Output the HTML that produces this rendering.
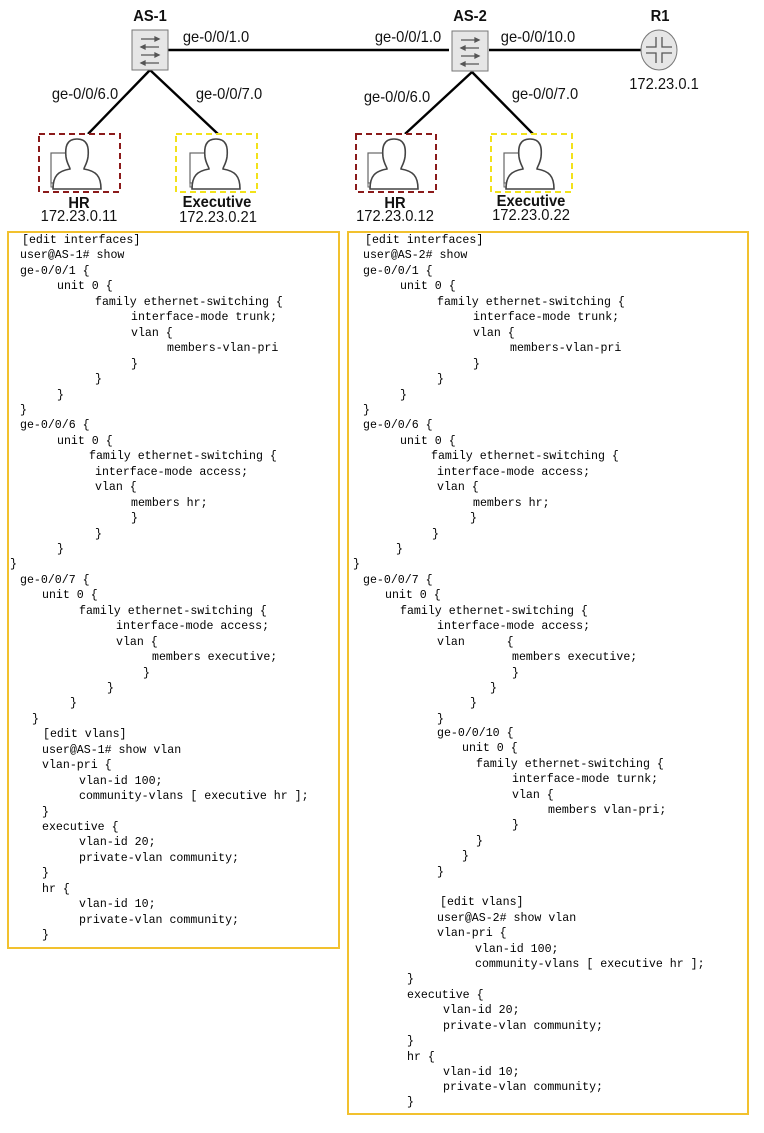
<!DOCTYPE html>
<html><head><meta charset="utf-8"><style>
body{margin:0;background:#fff;}
#c{position:relative;width:764px;height:1133px;overflow:hidden;background:#fff;}
.l{position:absolute;font-family:"Liberation Mono",monospace;font-size:11.6px;line-height:16px;white-space:pre;color:#000;}
.t{position:absolute;font-family:"Liberation Sans",sans-serif;font-size:16px;color:#111;white-space:nowrap;transform:translateX(-50%) scaleX(0.92);}
.b{font-weight:bold;}
.box{position:absolute;border:2px solid #f2c12e;box-sizing:border-box;}
</style></head><body><div id="c">
<svg width="764" height="240" style="position:absolute;left:0;top:0">
<defs>
<g id="sw"><rect x="0" y="0" width="36" height="40" fill="#e6e6e6" stroke="#777" stroke-width="1"/>
<g stroke="#555" stroke-width="1.3" fill="#555">
<line x1="9" y1="9" x2="27" y2="9"/><path d="M27 9 l-4 -2 v4z"/>
<line x1="9" y1="17" x2="27" y2="17"/><path d="M9 17 l4 -2 v4z"/>
<line x1="9" y1="25" x2="27" y2="25"/><path d="M27 25 l-4 -2 v4z"/>
<line x1="9" y1="33" x2="27" y2="33"/><path d="M9 33 l4 -2 v4z"/></g></g>
<g id="pp"><rect x="4" y="16" width="30" height="30" fill="#fff" stroke="#666" stroke-width="1.2"/>
<rect x="4" y="46" width="30" height="4" fill="#fff" stroke="#666" stroke-width="1"/>
<path d="M30 2 c-11 0 -12 9 -11 18 c1 7 4 10 4 12 c-12 2 -17 7 -17 20 h48 c0 -13 -5 -18 -17 -20 c0 -2 3 -5 4 -12 c1 -9 0 -18 -11 -18z" fill="#fff" stroke="#444" stroke-width="1.6"/></g>
</defs>
<g stroke="#000" stroke-width="2.4">
<line x1="166" y1="50" x2="449" y2="50"/>
<line x1="489" y1="50" x2="642" y2="50"/>
<line x1="150" y1="70" x2="88" y2="134"/>
<line x1="150" y1="70" x2="218" y2="134"/>
<line x1="472" y1="72" x2="405" y2="134"/>
<line x1="472" y1="72" x2="533" y2="134"/>
</g>
<use href="#sw" x="132" y="30"/>
<use href="#sw" x="452" y="31"/>
<ellipse cx="659" cy="50" rx="18" ry="20" fill="#e6e6e6" stroke="#777"/>
<g stroke="#555" stroke-width="1.3" fill="none"><path d="M656 37 v10 h-10 M662 37 v10 h10 M656 63 v-10 h-10 M662 63 v-10 h10"/></g>
<rect x="39" y="134" width="81" height="58" fill="#fff" stroke="#8b1a1a" stroke-width="2" stroke-dasharray="6,4"/>
<rect x="176" y="134" width="81" height="58" fill="#fff" stroke="#f2e21a" stroke-width="2" stroke-dasharray="6,4"/>
<rect x="356" y="134" width="80" height="58" fill="#fff" stroke="#8b1a1a" stroke-width="2" stroke-dasharray="6,4"/>
<rect x="491" y="134" width="81" height="58" fill="#fff" stroke="#f2e21a" stroke-width="2" stroke-dasharray="6,4"/>
<use href="#pp" x="47" y="137"/>
<use href="#pp" x="186" y="137"/>
<use href="#pp" x="364" y="137"/>
<use href="#pp" x="500" y="137"/>
</svg>
<div class="t b" style="left:150px;top:8px">AS-1</div>
<div class="t b" style="left:470px;top:8px">AS-2</div>
<div class="t b" style="left:660px;top:8px">R1</div>
<div class="t" style="left:216px;top:29px">ge-0/0/1.0</div>
<div class="t" style="left:408px;top:29px">ge-0/0/1.0</div>
<div class="t" style="left:538px;top:29px">ge-0/0/10.0</div>
<div class="t" style="left:664px;top:76px">172.23.0.1</div>
<div class="t" style="left:85px;top:86px">ge-0/0/6.0</div>
<div class="t" style="left:229px;top:86px">ge-0/0/7.0</div>
<div class="t" style="left:397px;top:89px">ge-0/0/6.0</div>
<div class="t" style="left:545px;top:86px">ge-0/0/7.0</div>
<div class="t b" style="left:79px;top:195px">HR</div>
<div class="t" style="left:79px;top:208px">172.23.0.11</div>
<div class="t b" style="left:217px;top:194px">Executive</div>
<div class="t" style="left:218px;top:209px">172.23.0.21</div>
<div class="t b" style="left:395px;top:195px">HR</div>
<div class="t" style="left:395px;top:208px">172.23.0.12</div>
<div class="t b" style="left:531px;top:193px">Executive</div>
<div class="t" style="left:531px;top:207px">172.23.0.22</div>

<div class="box" style="left:7px;top:231px;width:333px;height:718px"></div>
<div class="box" style="left:347px;top:231px;width:402px;height:884px"></div>

<div class="l" style="left:22px;top:233px">[edit interfaces]</div>
<div class="l" style="left:20px;top:248px">user@AS-1# show</div>
<div class="l" style="left:20px;top:264px">ge-0/0/1 {</div>
<div class="l" style="left:57px;top:279px">unit 0 {</div>
<div class="l" style="left:95px;top:295px">family ethernet-switching {</div>
<div class="l" style="left:131px;top:310px">interface-mode trunk;</div>
<div class="l" style="left:131px;top:326px">vlan {</div>
<div class="l" style="left:167px;top:341px">members-vlan-pri</div>
<div class="l" style="left:131px;top:357px">}</div>
<div class="l" style="left:95px;top:372px">}</div>
<div class="l" style="left:57px;top:388px">}</div>
<div class="l" style="left:20px;top:403px">}</div>
<div class="l" style="left:20px;top:418px">ge-0/0/6 {</div>
<div class="l" style="left:57px;top:434px">unit 0 {</div>
<div class="l" style="left:89px;top:449px">family ethernet-switching {</div>
<div class="l" style="left:95px;top:465px">interface-mode access;</div>
<div class="l" style="left:95px;top:480px">vlan {</div>
<div class="l" style="left:131px;top:496px">members hr;</div>
<div class="l" style="left:131px;top:511px">}</div>
<div class="l" style="left:95px;top:527px">}</div>
<div class="l" style="left:57px;top:542px">}</div>
<div class="l" style="left:10px;top:557px">}</div>
<div class="l" style="left:20px;top:573px">ge-0/0/7 {</div>
<div class="l" style="left:42px;top:588px">unit 0 {</div>
<div class="l" style="left:79px;top:604px">family ethernet-switching {</div>
<div class="l" style="left:116px;top:619px">interface-mode access;</div>
<div class="l" style="left:116px;top:635px">vlan {</div>
<div class="l" style="left:152px;top:650px">members executive;</div>
<div class="l" style="left:143px;top:666px">}</div>
<div class="l" style="left:107px;top:681px">}</div>
<div class="l" style="left:70px;top:696px">}</div>
<div class="l" style="left:32px;top:712px">}</div>
<div class="l" style="left:43px;top:727px">[edit vlans]</div>
<div class="l" style="left:42px;top:743px">user@AS-1# show vlan</div>
<div class="l" style="left:42px;top:758px">vlan-pri {</div>
<div class="l" style="left:79px;top:774px">vlan-id 100;</div>
<div class="l" style="left:79px;top:789px">community-vlans [ executive hr ];</div>
<div class="l" style="left:42px;top:805px">}</div>
<div class="l" style="left:42px;top:820px">executive {</div>
<div class="l" style="left:79px;top:835px">vlan-id 20;</div>
<div class="l" style="left:79px;top:851px">private-vlan community;</div>
<div class="l" style="left:42px;top:866px">}</div>
<div class="l" style="left:42px;top:882px">hr {</div>
<div class="l" style="left:79px;top:897px">vlan-id 10;</div>
<div class="l" style="left:79px;top:913px">private-vlan community;</div>
<div class="l" style="left:42px;top:928px">}</div>

<div class="l" style="left:365px;top:233px">[edit interfaces]</div>
<div class="l" style="left:363px;top:248px">user@AS-2# show</div>
<div class="l" style="left:363px;top:264px">ge-0/0/1 {</div>
<div class="l" style="left:400px;top:279px">unit 0 {</div>
<div class="l" style="left:437px;top:295px">family ethernet-switching {</div>
<div class="l" style="left:473px;top:310px">interface-mode trunk;</div>
<div class="l" style="left:473px;top:326px">vlan {</div>
<div class="l" style="left:510px;top:341px">members-vlan-pri</div>
<div class="l" style="left:473px;top:357px">}</div>
<div class="l" style="left:437px;top:372px">}</div>
<div class="l" style="left:400px;top:388px">}</div>
<div class="l" style="left:363px;top:403px">}</div>
<div class="l" style="left:363px;top:418px">ge-0/0/6 {</div>
<div class="l" style="left:400px;top:434px">unit 0 {</div>
<div class="l" style="left:431px;top:449px">family ethernet-switching {</div>
<div class="l" style="left:437px;top:465px">interface-mode access;</div>
<div class="l" style="left:437px;top:480px">vlan {</div>
<div class="l" style="left:473px;top:496px">members hr;</div>
<div class="l" style="left:470px;top:511px">}</div>
<div class="l" style="left:432px;top:527px">}</div>
<div class="l" style="left:396px;top:542px">}</div>
<div class="l" style="left:353px;top:557px">}</div>
<div class="l" style="left:363px;top:573px">ge-0/0/7 {</div>
<div class="l" style="left:385px;top:588px">unit 0 {</div>
<div class="l" style="left:400px;top:604px">family ethernet-switching {</div>
<div class="l" style="left:437px;top:619px">interface-mode access;</div>
<div class="l" style="left:437px;top:635px">vlan      {</div>
<div class="l" style="left:512px;top:650px">members executive;</div>
<div class="l" style="left:512px;top:666px">}</div>
<div class="l" style="left:490px;top:681px">}</div>
<div class="l" style="left:470px;top:696px">}</div>
<div class="l" style="left:437px;top:712px">}</div>
<div class="l" style="left:437px;top:726px">ge-0/0/10 {</div>
<div class="l" style="left:462px;top:741px">unit 0 {</div>
<div class="l" style="left:476px;top:757px">family ethernet-switching {</div>
<div class="l" style="left:512px;top:772px">interface-mode turnk;</div>
<div class="l" style="left:512px;top:788px">vlan {</div>
<div class="l" style="left:548px;top:803px">members vlan-pri;</div>
<div class="l" style="left:512px;top:818px">}</div>
<div class="l" style="left:476px;top:834px">}</div>
<div class="l" style="left:462px;top:849px">}</div>
<div class="l" style="left:437px;top:865px">}</div>
<div class="l" style="left:440px;top:895px">[edit vlans]</div>
<div class="l" style="left:437px;top:911px">user@AS-2# show vlan</div>
<div class="l" style="left:437px;top:926px">vlan-pri {</div>
<div class="l" style="left:475px;top:942px">vlan-id 100;</div>
<div class="l" style="left:475px;top:957px">community-vlans [ executive hr ];</div>
<div class="l" style="left:407px;top:972px">}</div>
<div class="l" style="left:407px;top:988px">executive {</div>
<div class="l" style="left:443px;top:1003px">vlan-id 20;</div>
<div class="l" style="left:443px;top:1019px">private-vlan community;</div>
<div class="l" style="left:407px;top:1034px">}</div>
<div class="l" style="left:407px;top:1050px">hr {</div>
<div class="l" style="left:443px;top:1065px">vlan-id 10;</div>
<div class="l" style="left:443px;top:1080px">private-vlan community;</div>
<div class="l" style="left:407px;top:1095px">}</div>
</div></body></html>
